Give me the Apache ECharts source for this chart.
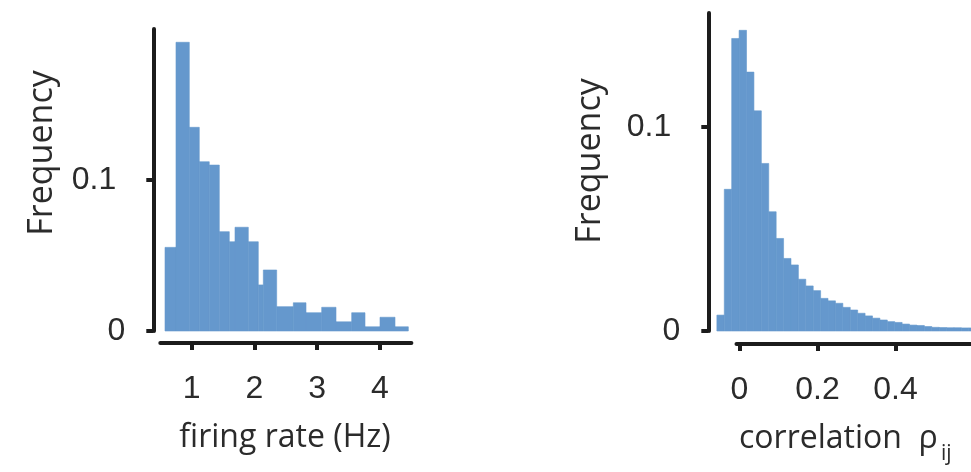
<!DOCTYPE html>
<html>
<head>
<meta charset="utf-8">
<script src="https://cdn.jsdelivr.net/npm/echarts@6/dist/echarts.min.js"></script>
<style>
  html, body { margin: 0; padding: 0; background: #ffffff; }
  #chart { width: 971px; height: 472px; }
</style>
</head>
<body>
<div id="chart"></div>
<script>
// Firing-rate histogram: bin edges (Hz) and the frequency of each bin
const rateEdges = [0.575, 0.750, 0.962, 1.121, 1.280, 1.440, 1.599, 1.690, 1.902, 2.061, 2.141,
                   2.354, 2.619, 2.821, 3.071, 3.299, 3.549, 3.761, 4.000, 4.239, 4.451];
const rateFreq = [0.0554, 0.1912, 0.1349, 0.1121, 0.1099, 0.0658, 0.0591, 0.0687, 0.0591, 0.0305,
                  0.0404, 0.0161, 0.0187, 0.0121, 0.0157, 0.0061, 0.0121, 0.0028, 0.0091, 0.0028];
const rateTicks = [1, 2, 3, 4];

// Pairwise correlation histogram: uniform bins
const corrBinStart = -0.058;
const corrBinWidth = 0.019;
const corrFreq = [0.0078, 0.0695, 0.1435, 0.1475, 0.1270, 0.1080, 0.0822, 0.0585, 0.0454, 0.0356,
                  0.0324, 0.0254, 0.0221, 0.0198, 0.0160, 0.0148, 0.0136, 0.0116, 0.0103, 0.0087,
                  0.0074, 0.0063, 0.0054, 0.0046, 0.0042, 0.0034, 0.0029, 0.0027, 0.0022, 0.0018,
                  0.0017, 0.0016, 0.0016, 0.0015, 0.0015, 0.0014];
const corrTicks = [0, 0.2, 0.4];

// Shared frequency ticks
const freqTicks = [0, 0.1];

const barColor = '#6598CD';
const inkColor = '#1c1c1c';
const textColor = '#2b2b2b';
const tickFont = 'Liberation Sans';

const rateData = rateFreq.map((f, i) => [rateEdges[i], rateEdges[i + 1], f]);
const corrData = corrFreq.map((f, i) => [corrBinStart + i * corrBinWidth, corrBinStart + (i + 1) * corrBinWidth, f]);

function renderBin(params, api) {
  const top = api.coord([api.value(0), api.value(2)]);
  const bottom = api.coord([api.value(1), 0]);
  const cs = params.coordSys;
  const rect = echarts.graphic.clipRectByRect(
    { x: top[0], y: top[1], width: bottom[0] - top[0], height: bottom[1] - top[1] },
    { x: cs.x, y: cs.y, width: cs.width, height: cs.height }
  );
  return rect && {
    type: 'rect',
    shape: rect,
    style: { fill: barColor, stroke: barColor, lineWidth: 0.6 }
  };
}

function freqLabel(v) {
  return v === 0 ? '0' : '{w|' + v + '}';
}

const labelStyle = { fontFamily: tickFont, fontSize: 32, color: textColor };

function xAxisBase(gridIndex, min, max, offset, ticks) {
  return {
    type: 'value', gridIndex, min, max, position: 'bottom', offset,
    axisLine: { show: true, onZero: false, lineStyle: { color: inkColor, width: 4 } },
    axisTick: { show: true, inside: false, length: 7, customValues: ticks, lineStyle: { color: inkColor, width: 4 } },
    axisLabel: Object.assign({ show: true, margin: 30, customValues: ticks }, labelStyle),
    splitLine: { show: false }
  };
}

function yAxisBase(gridIndex, max, offset) {
  return {
    type: 'value', gridIndex, min: 0, max, position: 'left', offset,
    axisLine: { show: true, onZero: false, lineStyle: { color: inkColor, width: 4 } },
    axisTick: { show: true, inside: false, length: 7, customValues: freqTicks, lineStyle: { color: inkColor, width: 4 } },
    axisLabel: Object.assign({
      show: true, margin: 28, customValues: freqTicks, formatter: freqLabel,
      rich: { w: Object.assign({ padding: [0, 9, 0, 0] }, labelStyle) }
    }, labelStyle),
    splitLine: { show: false }
  };
}

const titleText = (x, y, text, size, align, rotation) => ({
  type: 'text', x, y, rotation: rotation || 0,
  style: {
    text, fill: textColor, font: size + 'px "Open Sans"',
    align, verticalAlign: 'middle', textAlign: align, textVerticalAlign: 'middle'
  }
});

const chart = echarts.init(document.getElementById('chart'), null, { renderer: 'canvas' });

chart.setOption({
  animation: false,
  backgroundColor: '#ffffff',
  grid: [
    { left: 160.3, width: 251.1, top: 29, height: 302, outerBoundsMode: 'none', containLabel: false },
    { left: 708.3, width: 304.2, top: 13, height: 318, outerBoundsMode: 'none', containLabel: false },
    { left: 736.5, width: 276, top: 13, height: 318, outerBoundsMode: 'none', containLabel: false }
  ],
  xAxis: [
    xAxisBase(0, 0.5, 4.5, 12, rateTicks),
    { type: 'value', gridIndex: 1, min: -0.08, max: 0.7, show: false },
    xAxisBase(2, -0.00769, 0.7, 13, corrTicks)
  ],
  yAxis: [
    yAxisBase(0, 0.2, 7),
    yAxisBase(1, 0.156, 0),
    { type: 'value', gridIndex: 2, min: 0, max: 0.156, show: false }
  ],
  series: [
    {
      type: 'custom', xAxisIndex: 0, yAxisIndex: 0,
      renderItem: renderBin, encode: { x: [0, 1], y: 2 }, data: rateData
    },
    {
      type: 'custom', xAxisIndex: 1, yAxisIndex: 1,
      renderItem: renderBin, encode: { x: [0, 1], y: 2 }, data: corrData
    }
  ],
  graphic: [
    titleText(42, 153, 'Frequency', 34, 'center', Math.PI / 2),
    titleText(590, 161, 'Frequency', 34, 'center', Math.PI / 2),
    titleText(285, 438, 'firing rate (Hz)', 32, 'center'),
    titleText(739, 439, 'correlation  ρ', 32, 'left'),
    titleText(941, 454, 'ij', 21, 'left')
  ]
});
</script>
</body>
</html>
